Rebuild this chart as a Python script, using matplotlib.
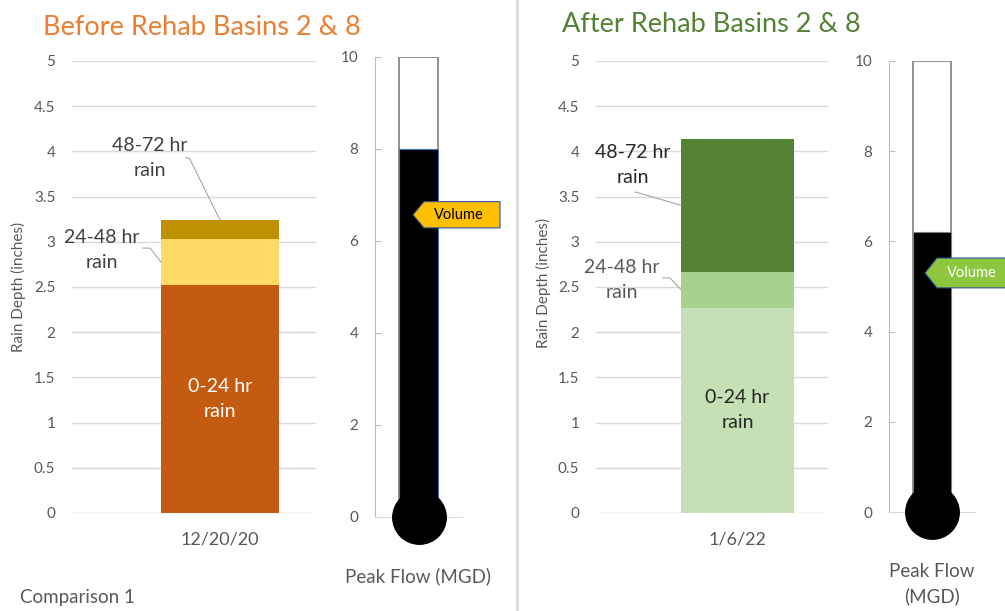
import numpy as np
import matplotlib.pyplot as plt
import matplotlib.patches as mpatches
from matplotlib.lines import Line2D

plt.rcParams['font.family'] = ['Lato', 'DejaVu Sans']

W, H = 1005, 611

segments = ['0-24 hr\nrain', '24-48 hr\nrain', '48-72 hr\nrain']
dates = ['12/20/20', '1/6/22']
titles = ['Before Rehab Basins 2 & 8', 'After Rehab Basins 2 & 8']
before_rain = [2.52, 0.51, 0.21]
after_rain = [2.27, 0.40, 1.47]
peak_flow = [8.0, 6.2]
volume_level = [6.57, 5.30]

before_colors = ['#C55A11', '#FFD966', '#BF9000']
after_colors = ['#C5E0B4', '#A9D18E', '#548235']
GRID = '#D9D9D9'
TXT = '#595959'


def rect(l, r, t, b):
    return [l / W, 1 - b / H, (r - l) / W, (b - t) / H]


def ftext(x, y, s, **kw):
    fig.text(x / W, 1 - y / H, s, **kw)


fig = plt.figure(figsize=(W / 100, H / 100), dpi=100)


def rain_axes(box, xlim, width, values, colors, date):
    ax = fig.add_axes(rect(*box))
    bottoms = np.concatenate([[0], np.cumsum(values)[:-1]])
    ax.bar([0] * len(values), values, bottom=bottoms, width=width,
           color=colors, zorder=3)
    ax.set_xlim(*xlim)
    ax.set_ylim(0, 5)
    yt = np.arange(0, 5.01, 0.5)
    ax.set_yticks(yt, [f'{v:g}' for v in yt])
    ax.grid(axis='y', color=GRID, lw=1, zorder=0)
    ax.set_xticks([0], [date])
    for s in ax.spines.values():
        s.set_visible(False)
    ax.tick_params(axis='y', length=0, labelsize=11, labelcolor=TXT, pad=12)
    ax.tick_params(axis='x', length=0, labelsize=13, labelcolor=TXT, pad=13)
    return ax, bottoms


def seg_label(ax, x, y, text, color, leader=None):
    ax.text(x, y, text, ha='center', va='center', fontsize=14,
            color=color, linespacing=1.57, zorder=5)
    if leader is not None:
        xs, ys = zip(*leader)
        ax.plot(xs, ys, color='#A6A6A6', lw=0.8, zorder=4)


def thermometer(box, flow, vol, half, tip, notch, right, fc, tc, edge):
    ax = fig.add_axes(rect(*box))
    ax.set_xlim(0, 1)
    ax.set_ylim(0, 10)
    ax.bar(0.5, 10, width=0.448, color='white', edgecolor='#7F7F7F', lw=1.2, zorder=2)
    ax.bar(0.5, flow, width=0.448, color='black', edgecolor=edge, lw=0.8, zorder=3)
    ax.plot(0.5, 0, 'o', ms=38.5, color='black', clip_on=False, zorder=4)
    ax.set_yticks(np.arange(0, 11, 2))
    ax.set_xticks([])
    ax.spines[['top', 'right']].set_visible(False)
    ax.spines['left'].set_color('#BFBFBF')
    ax.spines['bottom'].set_color(GRID)
    ax.tick_params(axis='y', direction='in', length=4, color='#BFBFBF',
                   labelsize=11, labelcolor=TXT, pad=12)
    pts = [(tip, vol), (notch, vol + half), (right, vol + half),
           (right, vol - half), (notch, vol - half)]
    ax.add_patch(mpatches.Polygon(pts, closed=True, facecolor=fc,
                                  edgecolor='#2F5597', lw=0.8,
                                  clip_on=False, zorder=6))
    ax.text((notch + min(right, 1.37)) / 2, vol, 'Volume', ha='center',
            va='center', fontsize=10.5, color=tc, zorder=7, clip_on=False)
    return ax


# before
ax1, b1 = rain_axes((72, 316, 61, 513), (-0.607, 0.393), 0.484,
                    before_rain, before_colors, dates[0])
seg_label(ax1, 0, before_rain[0] / 2, segments[0], 'white')
seg_label(ax1, -0.484, 2.91, segments[1], '#404040',
          [(-0.316, 2.93), (-0.287, 2.93), (-0.242, b1[1] + before_rain[1] / 2)])
seg_label(ax1, -0.287, 3.93, segments[2], '#404040',
          [(-0.14, 3.93), (-0.125, 3.92), (0, b1[2] + before_rain[2])])

# after
ax2, b2 = rain_axes((596, 828, 61, 513), (-0.61, 0.39), 0.487,
                    after_rain, after_colors, dates[1])
seg_label(ax2, 0, after_rain[0] / 2, segments[0], '#262626')
seg_label(ax2, -0.498, 2.58, segments[1], TXT,
          [(-0.321, 2.60), (-0.291, 2.60), (-0.244, b2[1] + after_rain[1] / 2)])
seg_label(ax2, -0.45, 3.85, segments[2], '#262626',
          [(-0.44, 3.55), (-0.244, b2[2] + after_rain[2] / 2)])

thermometer((375, 462, 57, 517), peak_flow[0], volume_level[0], 0.285,
            0.437, 0.563, 1.437, '#FFC000', 'black', '#4472C4')
thermometer((889, 975, 61, 512), peak_flow[1], volume_level[1], 0.33,
            0.419, 0.558, 1.45, '#8DC63F', 'white', '#7F7F7F')

# titles and free text
ftext(43, 35, titles[0], fontsize=19.5, color='#ED7D31', va='baseline')
ftext(562, 32, titles[1], fontsize=19.5, color='#548235', va='baseline')
ftext(18, 287, 'Rain Depth (inches)', fontsize=11, color=TXT, rotation=90,
      ha='center', va='center')
ftext(543, 283, 'Rain Depth (inches)', fontsize=11, color=TXT, rotation=90,
      ha='center', va='center')
ftext(418, 576, 'Peak Flow (MGD)', fontsize=13.5, color=TXT, ha='center', va='center')
ftext(932, 584, 'Peak Flow\n(MGD)', fontsize=13.5, color=TXT, ha='center',
      va='center', linespacing=1.5)
ftext(20, 598, 'Comparison 1', fontsize=13.5, color=TXT, va='center')

fig.add_artist(Line2D([517 / W, 517 / W], [0, 1], color=GRID, lw=2))

fig.savefig('out.png', dpi=100)
